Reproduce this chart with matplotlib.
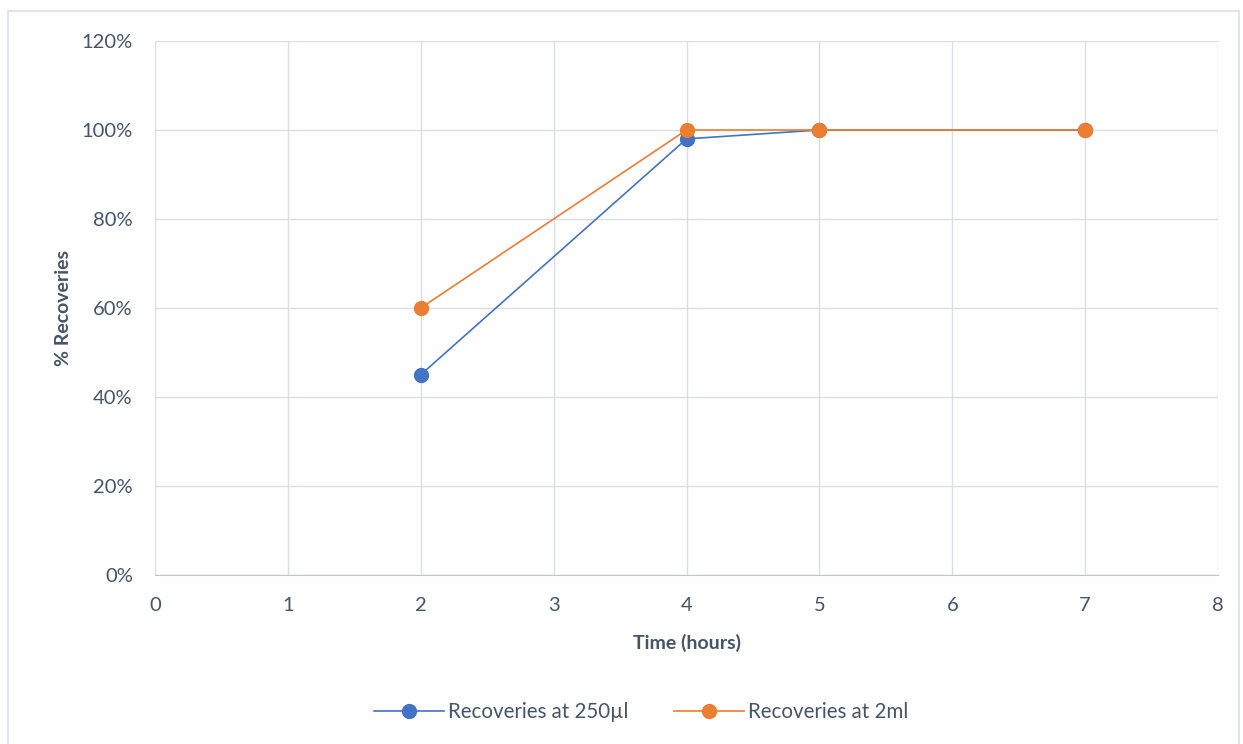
import matplotlib
matplotlib.use("Agg")
import matplotlib.pyplot as plt
from matplotlib.patches import Rectangle
from matplotlib.ticker import PercentFormatter

plt.rcParams['font.family'] = ['Lato', 'DejaVu Sans']

time_hours = [2, 4, 5, 7]
rec_250ul = [45, 98, 100, 100]
rec_2ml = [60, 100, 100, 100]

text_col = '#44546A'
grid_col = '#D9DEE6'

fig = plt.figure(figsize=(12.43, 7.44), dpi=100)
ax = fig.add_axes([0.1247, 0.2272, 0.8552, 0.7177])

ax.plot(time_hours, rec_250ul, color='#4472C4', lw=1.2, marker='o', ms=10,
        label='Recoveries at 250µl', zorder=3)
ax.plot(time_hours, rec_2ml, color='#ED7D31', lw=1.2, marker='o', ms=10,
        label='Recoveries at 2ml', zorder=4)

ax.set_xlim(0, 8)
ax.set_ylim(0, 120)
ax.set_xticks(range(0, 9))
ax.set_yticks(range(0, 121, 20))
ax.yaxis.set_major_formatter(PercentFormatter(decimals=0))
ax.grid(True, color=grid_col, lw=1)
ax.set_axisbelow(True)
for side in ['top', 'right', 'left']:
    ax.spines[side].set_visible(False)
ax.spines['bottom'].set_color('#BFC5CE')
ax.tick_params(length=0, labelsize=14.5, colors=text_col)
ax.tick_params(axis='x', pad=16)
ax.tick_params(axis='y', pad=16)

ax.set_xlabel('Time (hours)', fontsize=14, fontweight='bold', color=text_col, labelpad=14)
ax.set_ylabel('% Recoveries', fontsize=14, fontweight='bold', color=text_col, labelpad=7)

leg = fig.legend(loc='lower center', bbox_to_anchor=(0.516, 0.005), ncol=2, frameon=False,
                 fontsize=14.8, handlelength=3.4, handletextpad=0.2, columnspacing=2.2,
                 labelcolor=text_col)

# chart frame
fig.patches.append(Rectangle((8 / 1243, -0.01), 1231 / 1243, (744 - 11) / 744 + 0.01,
                             transform=fig.transFigure, fill=False, ec='#D9DEE6', lw=1.2))

fig.savefig('out.png', dpi=100)
